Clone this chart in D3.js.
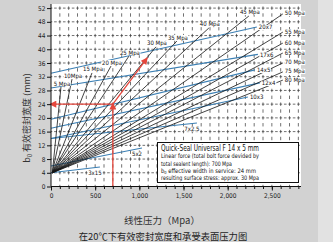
<!DOCTYPE html>
<meta charset="utf-8">
<head>
<title>Quick-Seal Universal F</title>
<style>
body { margin: 0; background: #d3d3d3; }
svg { display: block; }
text { font-family: "Liberation Sans Narrow", "DejaVu Sans Condensed", "Liberation Sans", sans-serif; }
.cjk { font-family: "Noto Sans CJK SC", sans-serif; }
</style>
</head>
<body>
<div id="chart"></div>
<script src="https://cdn.jsdelivr.net/npm/d3@7"></script>
<script>
var width = 333,
    height = 242;

// surface stress lines (Mpa), all start near the same point
var pressOrigin = [15, 4];
var pressures = [5, 10, 15, 20, 25, 30, 35, 40, 45, 50, 55, 60, 65, 70, 75, 80];
var pressLabels = ["5 Mpa", "10Mpa", "15 Mpa", "20 Mpa", "25 Mpa", "30 Mpa", "35 Mpa", "40 Mpa", "45 Mpa",
                   "50 Mpa", "55 Mpa", "60 Mpa", "65 Mpa", "70 Mpa", "75 Mpa", "80 Mpa"];
var pressEndF = [113, 238, 464, 679, 882, 1188, 1425, 1787, 2240, 2624, 2624, 2624, 2624, 2624, 2624, 2624];
var pressEndB = [29.0, 31.3, 33.1, 35.1, 38.0, 40.7, 42.4, 46.2, 49.7, 50.3, 45.0, 41.8, 38.9, 36.0, 33.4, 31.0];

// tape sizes (blue lines)
var gaskets = ["3x15", "5x2", "7x2.5", "10x3", "12x4", "14x5", "17x6", "20x7"];
var gasketStartB = [4, 6, 14, 14, 17, 19.6, 28.7, 33];
var gasketEndF = [554, 1030, 1652, 2229, 2364, 2308, 2342, 2330];
var gasketEndB = [5.7, 11.2, 18.5, 26.1, 30.2, 34.0, 38.5, 46.5];

// worked example (red)
var exampleF = 700, exampleB = 24;
var exampleArrow = [1090, 37.5];

var xTicks = [0, 500, 1000, 1500, 2000, 2500];
var xTickLabels = ["0", "500", "1,000", "1,500", "2,000", "2,500"];
var yTicks = [0, 4, 8, 12, 16, 20, 24, 28, 32, 36, 40, 44, 48, 52];

var boxTitle = "Quick-Seal Universal F  14 x 5 mm";
var boxLines = ["Linear force (total bolt force devided by",
                "total sealent length): 700 Mpa",
                "effective width in service: 24 mm",
                "resulting surface stress: approx. 30 Mpa"];

var x = d3.scaleLinear().domain([0, 2830]).range([51, 301]);
var y = d3.scaleLinear().domain([0, 52]).range([186.5, 8.1]);

var svg = d3.select("#chart").append("svg")
    .attr("width", width)
    .attr("height", height);

svg.append("rect").attr("width", width).attr("height", height).attr("fill", "#d2d2d2");
svg.append("rect").attr("x", 318).attr("width", 15).attr("height", height).attr("fill", "#e2e2e2");

// plot area
svg.append("rect")
    .attr("x", x(0)).attr("y", 4)
    .attr("width", x(2830) - x(0)).attr("height", y(0) - 4)
    .attr("fill", "#fff");

var grid = svg.append("g").attr("stroke", "#333").attr("stroke-width", 0.7);
grid.selectAll(".v").data(d3.range(100, 2900, 100))
  .enter().append("line")
    .attr("x1", function(d) { return x(Math.min(d, 2830)); })
    .attr("x2", function(d) { return x(Math.min(d, 2830)); })
    .attr("y1", y(0)).attr("y2", 4)
    .attr("stroke-dasharray", "3.4,3.46")
    .attr("stroke-dashoffset", 1.7);
grid.selectAll(".h").data(yTicks.slice(1))
  .enter().append("line")
    .attr("x1", x(0)).attr("x2", x(2830))
    .attr("y1", function(d) { return y(d); })
    .attr("y2", function(d) { return y(d); })
    .attr("stroke-dasharray", "2.6,1.82")
    .attr("stroke-dashoffset", 1.3);

// blue tape lines
svg.append("g").selectAll("line").data(gaskets)
  .enter().append("line")
    .attr("x1", x(0))
    .attr("y1", function(d, i) { return y(gasketStartB[i]); })
    .attr("x2", function(d, i) { return x(gasketEndF[i]); })
    .attr("y2", function(d, i) { return y(gasketEndB[i]); })
    .attr("stroke", "#3b7fb3")
    .attr("stroke-width", 1.1);

// black stress lines
svg.append("g").selectAll("line").data(pressures)
  .enter().append("line")
    .attr("x1", x(pressOrigin[0]))
    .attr("y1", y(pressOrigin[1]))
    .attr("x2", function(d, i) { return x(pressEndF[i]); })
    .attr("y2", function(d, i) { return y(pressEndB[i]); })
    .attr("stroke", "#141414")
    .attr("stroke-width", 0.8);

// labels with white knockout
function label(g, txt, cx, cy, anchor) {
  var t = g.append("text")
      .attr("x", cx).attr("y", cy + 2)
      .attr("text-anchor", anchor)
      .attr("font-size", 6)
      .attr("fill", "#111")
      .text(txt);
  var bb = t.node().getBBox();
  g.insert("rect", function() { return t.node(); })
      .attr("x", bb.x - 0.5).attr("y", cy - 2.6)
      .attr("width", bb.width + 1).attr("height", 5.2)
      .attr("fill", "#fff");
}

var lab = svg.append("g");
pressures.forEach(function(p, i) {
  var ex = x(pressEndF[i]), ey = y(pressEndB[i]);
  if (p <= 45) label(lab, pressLabels[i], ex + 1, ey - 3.5, "middle");
  else label(lab, pressLabels[i], ex + 2, ey - 0.5, "start");
});
gaskets.forEach(function(g, i) {
  var ex = x(gasketEndF[i]), ey = y(gasketEndB[i]);
  if (gasketEndF[i] > 2000) label(lab, g, ex + 2, ey + 0.5, "start");
  else label(lab, g, ex - 5, ey + 6, "middle");
});

// red example
var defs = svg.append("defs");
defs.append("marker")
    .attr("id", "arr")
    .attr("viewBox", "0 0 10 10")
    .attr("refX", 9).attr("refY", 5)
    .attr("markerUnits", "userSpaceOnUse")
    .attr("markerWidth", 8).attr("markerHeight", 7)
    .attr("orient", "auto")
  .append("path")
    .attr("d", "M0,0L10,5L0,10Z")
    .attr("fill", "#e5463c");

var red = svg.append("g").attr("stroke", "#e5463c").attr("stroke-width", 1.3).attr("fill", "none");
red.append("line")
    .attr("x1", x(exampleF)).attr("y1", y(0))
    .attr("x2", x(exampleF)).attr("y2", y(exampleB) - 1)
    .attr("marker-end", "url(#arr)");
red.append("line")
    .attr("x1", x(exampleF)).attr("y1", y(exampleB))
    .attr("x2", x(0) - 1).attr("y2", y(exampleB))
    .attr("marker-end", "url(#arr)");
red.append("line")
    .attr("x1", x(exampleF)).attr("y1", y(exampleB))
    .attr("x2", x(exampleArrow[0])).attr("y2", y(exampleArrow[1]))
    .attr("marker-end", "url(#arr)");

// axes
var yAxis = svg.append("g").attr("transform", "translate(" + x(0) + ",0)")
    .call(d3.axisLeft(y).tickValues(yTicks).tickSize(4).tickPadding(1.5));
var xAxis = svg.append("g").attr("transform", "translate(0," + y(0) + ")")
    .call(d3.axisBottom(x).tickValues(xTicks).tickFormat(function(d, i) { return xTickLabels[i]; })
      .tickSize(4).tickPadding(3));
svg.append("g").attr("transform", "translate(0," + y(0) + ")")
    .call(d3.axisBottom(x).tickValues(d3.range(100, 2900, 100)).tickFormat("").tickSize(2.5))
    .select(".domain").remove();
svg.selectAll(".tick text").attr("font-size", 6.5).attr("fill", "#222")
    .attr("font-family", "'Liberation Sans Narrow','DejaVu Sans Condensed',sans-serif");
svg.selectAll(".domain").attr("stroke", "#111").attr("d", null);
yAxis.select(".domain").attr("d", "M0," + y(0) + "V4");
xAxis.select(".domain").attr("d", "M" + x(0) + ",0H" + x(2830));
svg.selectAll(".tick line").attr("stroke", "#111");

// info box
var box = svg.append("g");
box.append("rect")
    .attr("x", 157.5).attr("y", 142.5).attr("width", 141).attr("height", 40)
    .attr("fill", "#fff").attr("stroke", "#111").attr("stroke-width", 1);
box.append("text")
    .attr("x", 161).attr("y", 150.5)
    .attr("font-size", 8.5)
    .attr("textLength", 98).attr("lengthAdjust", "spacingAndGlyphs")
    .attr("fill", "#111")
    .text(boxTitle);
var lineWidths = [98, 71, 95, 98];
boxLines.forEach(function(s, i) {
  var t = box.append("text")
      .attr("x", 161).attr("y", 158.3 + i * 7.3)
      .attr("font-size", 6.2)
      .attr("fill", "#111");
  if (i == 2) {
    t.append("tspan").text("b");
    t.append("tspan").attr("font-size", 4.2).attr("dy", 1.3).text("0");
    t.append("tspan").attr("dy", -1.3).text(" " + s);
    t.attr("textLength", lineWidths[i]).attr("lengthAdjust", "spacingAndGlyphs");
  } else {
    t.text(s).attr("textLength", lineWidths[i]).attr("lengthAdjust", "spacingAndGlyphs");
  }
});

// titles
var yt = svg.append("text")
    .attr("class", "cjk")
    .attr("transform", "translate(30,118) rotate(-90)")
    .attr("text-anchor", "middle")
    .attr("font-size", 9)
    .attr("fill", "#333");
yt.append("tspan").text("b");
yt.append("tspan").attr("font-size", 6).attr("dy", 2).text("0");
yt.append("tspan").attr("dy", -2).text(" 有效密封宽度 (mm)");

svg.append("text")
    .attr("class", "cjk")
    .attr("x", 162).attr("y", 223.5)
    .attr("text-anchor", "middle")
    .attr("font-size", 9.5)
    .attr("fill", "#333")
    .text("线性压力（Mpa）");

svg.append("text")
    .attr("class", "cjk")
    .attr("x", 163).attr("y", 239.5)
    .attr("text-anchor", "middle")
    .attr("font-size", 9.3)
    .attr("fill", "#222")
    .text("在20℃下有效密封宽度和承受表面压力图");
</script>
</body>
